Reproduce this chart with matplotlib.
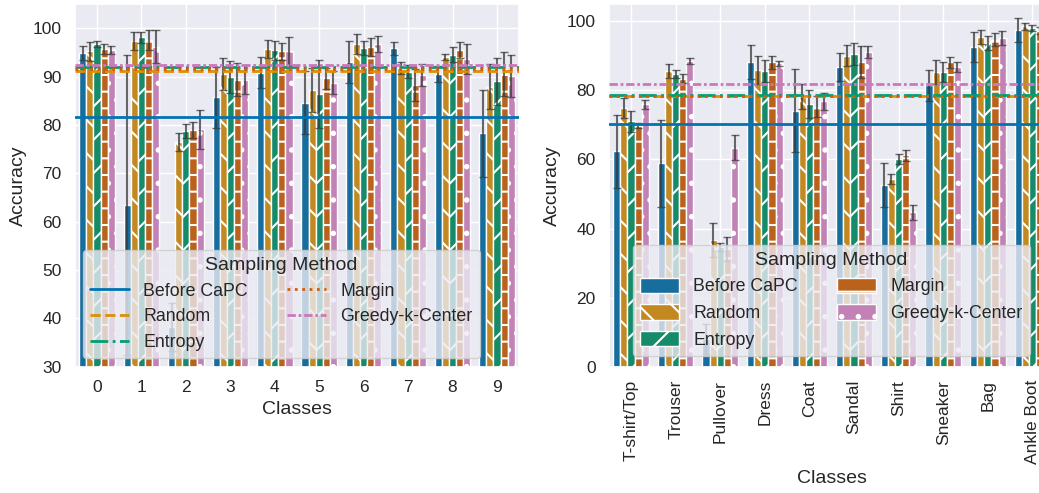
import numpy as np
import matplotlib
matplotlib.use("Agg")
import matplotlib.pyplot as plt
import seaborn as sns
from matplotlib.lines import Line2D
from matplotlib.patches import Patch

methods = ['Before CaPC', 'Random', 'Entropy', 'Margin', 'Greedy-k-Center']

left_classes = ['0', '1', '2', '3', '4', '5', '6', '7', '8', '9']
left_before = [94.9, 63.4, 38.2, 85.7, 90.8, 84.6, 93.0, 95.8, 90.5, 78.3]
left_before_err = [1.5, 31.0, 5.0, 6.3, 3.2, 6.5, 4.4, 1.3, 1.7, 9.0]
left_random = [95.2, 97.4, 76.5, 90.5, 95.7, 87.2, 96.7, 91.7, 94.0, 87.9]
left_random_err = [1.9, 1.9, 1.8, 3.3, 1.9, 4.6, 2.1, 1.2, 0.6, 4.7]
left_entropy = [96.7, 98.1, 78.7, 89.9, 95.4, 86.4, 95.9, 91.0, 94.5, 89.0]
left_entropy_err = [0.7, 1.1, 1.4, 3.4, 1.9, 7.0, 1.4, 1.4, 1.5, 4.8]
left_margin = [95.7, 97.6, 78.9, 89.3, 95.2, 89.6, 96.1, 88.3, 95.5, 90.5]
left_margin_err = [1.0, 2.1, 1.7, 3.4, 1.7, 2.2, 1.9, 3.3, 1.7, 4.5]
left_greedy = [95.5, 96.2, 79.1, 89.3, 95.2, 88.7, 96.7, 90.3, 93.7, 90.1]
left_greedy_err = [0.9, 3.5, 4.0, 3.0, 3.0, 2.4, 1.7, 2.3, 3.1, 4.3]
left_means = [81.7, 91.2, 92.0, 91.6, 92.3]

right_classes = ['T-shirt/Top', 'Trouser', 'Pullover', 'Dress', 'Coat',
                 'Sandal', 'Shirt', 'Sneaker', 'Bag', 'Ankle Boot']
right_before = [62.4, 58.9, 8.0, 88.2, 74.1, 86.8, 52.6, 81.5, 92.5, 97.5]
right_before_err = [10.6, 12.6, 4.3, 4.8, 12.0, 4.0, 6.5, 4.5, 4.4, 3.5]
right_random = [74.8, 85.6, 36.8, 85.8, 78.2, 90.0, 54.3, 85.4, 95.4, 98.5]
right_random_err = [2.9, 2.0, 4.9, 4.0, 3.6, 3.0, 1.4, 3.5, 2.1, 1.0]
right_entropy = [71.0, 84.7, 34.7, 85.6, 76.1, 90.5, 60.2, 85.3, 93.7, 98.0]
right_entropy_err = [3.1, 1.2, 1.1, 3.1, 4.0, 3.2, 1.4, 3.0, 2.0, 0.8]
right_margin = [69.8, 83.3, 34.0, 88.1, 75.3, 88.2, 61.2, 88.1, 94.7, 97.3]
right_margin_err = [0.8, 1.3, 3.5, 1.9, 3.1, 4.5, 1.6, 1.6, 2.0, 1.0]
right_greedy = [76.0, 88.5, 63.4, 87.8, 76.8, 91.1, 44.7, 86.8, 95.2, 96.5]
right_greedy_err = [1.3, 0.9, 3.6, 0.8, 2.5, 1.7, 2.2, 1.5, 2.0, 1.0]
right_means = [70.3, 78.5, 78.7, 78.5, 81.8]

sns.set_theme(style='darkgrid')
plt.rcParams['font.family'] = ['Liberation Sans', 'DejaVu Sans']
plt.rcParams['hatch.linewidth'] = 1.5

line_colors = sns.color_palette('colorblind', 5)
bar_colors = [sns.desaturate(c, 0.75) for c in line_colors]
hatches = [None, '\\', '/', '-', '.']
styles = ['-', '--', '-.', ':', (0, (3, 1, 1, 1))]
TICK = 12.5
LAB = 14
LEG = 12.8


def draw(ax, classes, series, errs, means):
    x = np.arange(len(classes))
    w = 0.16
    for i in range(5):
        pos = x + (i - 2) * w
        ax.bar(pos, series[i], w, color=bar_colors[i], edgecolor='white',
               linewidth=1, hatch=hatches[i], zorder=2)
        ax.errorbar(pos, series[i], yerr=errs[i], fmt='none', ecolor='#3a3a3a',
                    elinewidth=1.5, capsize=3, alpha=0.75, zorder=3)
    for i in range(5):
        ax.axhline(means[i], color=line_colors[i], linestyle=styles[i],
                   linewidth=2, zorder=4)
    ax.set_xticks(x)
    ax.set_xticklabels(classes, fontsize=TICK)
    ax.set_xlim(-0.5, len(classes) - 0.5)
    ax.tick_params(axis='y', labelsize=TICK)
    ax.set_xlabel('Classes', fontsize=LAB)
    ax.set_ylabel('Accuracy', fontsize=LAB)


fig = plt.figure(figsize=(10.39, 4.93), dpi=100)
ax1 = fig.add_axes([0.072, 0.256, 0.4277, 0.736])
ax2 = fig.add_axes([0.5859, 0.256, 0.4292, 0.736])

draw(ax1, left_classes,
     [left_before, left_random, left_entropy, left_margin, left_greedy],
     [left_before_err, left_random_err, left_entropy_err, left_margin_err, left_greedy_err],
     left_means)
ax1.set_ylim(30, 105)
ax1.set_yticks(range(30, 101, 10))

draw(ax2, right_classes,
     [right_before, right_random, right_entropy, right_margin, right_greedy],
     [right_before_err, right_random_err, right_entropy_err, right_margin_err, right_greedy_err],
     right_means)
ax2.set_ylim(0, 105)
ax2.set_yticks(range(0, 101, 20))
ax2.tick_params(axis='x', labelrotation=90)

# legends
lh = [Line2D([0], [0], color=line_colors[i], linestyle=styles[i], linewidth=2)
      for i in range(5)]
leg1 = ax1.legend(lh, methods, title='Sampling Method', ncol=2, fontsize=LEG,
                  title_fontsize=LAB, loc='lower left', borderaxespad=0,
                  bbox_to_anchor=(0.018, 0.023), handlelength=2.2,
                  columnspacing=2.2)
leg1.set_zorder(5)

ph = [Patch(facecolor=bar_colors[i], edgecolor='white', hatch=hatches[i])
      for i in range(5)]
leg2 = ax2.legend(ph, methods, title='Sampling Method', ncol=2, fontsize=LEG,
                  title_fontsize=LAB, loc='lower left', borderaxespad=0,
                  bbox_to_anchor=(0.054, 0.03), handlelength=2.2,
                  handleheight=0.95, columnspacing=2.2)
leg2.set_zorder(5)

fig.savefig('out.png', dpi=100)
